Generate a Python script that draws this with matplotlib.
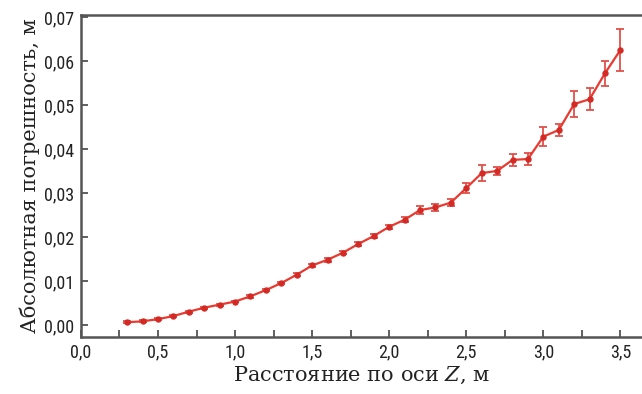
import numpy as np
import matplotlib
matplotlib.use("Agg")
import matplotlib.pyplot as plt
from matplotlib.ticker import MultipleLocator, FuncFormatter

# distance along Z, m
dist = [0.3, 0.4, 0.5, 0.6, 0.7, 0.8, 0.9, 1.0, 1.1, 1.2, 1.3,
        1.4, 1.5, 1.6, 1.7, 1.8, 1.9, 2.0, 2.1, 2.2, 2.3, 2.4,
        2.5, 2.6, 2.7, 2.8, 2.9, 3.0, 3.1, 3.2, 3.3, 3.4, 3.5]
# absolute error, m
err = [0.0006, 0.0008, 0.0013, 0.0020, 0.0030, 0.0039, 0.0046, 0.0053,
       0.0065, 0.0079, 0.0095, 0.0114, 0.0135, 0.0148, 0.0164, 0.0184,
       0.0202, 0.0223, 0.0239, 0.0261, 0.0267, 0.0278, 0.0311, 0.0345,
       0.0350, 0.0375, 0.0377, 0.0428, 0.0443, 0.0502, 0.0513, 0.0572,
       0.0625]
# error bar half-widths
spread = [0.0002, 0.0002, 0.0002, 0.0002, 0.0002, 0.0002, 0.0002, 0.0002,
          0.0003, 0.0003, 0.0003, 0.0003, 0.0003, 0.0004, 0.0004, 0.0004,
          0.0005, 0.0005, 0.0006, 0.0010, 0.0008, 0.0008, 0.0012, 0.0018,
          0.0010, 0.0013, 0.0014, 0.0021, 0.0014, 0.0029, 0.0025, 0.0028,
          0.0047]

plt.rcParams['mathtext.fontset'] = 'dejavuserif'

fig = plt.figure(figsize=(6.42, 3.94), dpi=100)
ax = fig.add_axes([0.126, 0.145, 0.874, 0.817])

ax.errorbar(dist, err, yerr=spread, color='#e83a30', lw=1.6,
            marker='o', ms=3.6, mfc='#d42a25', mec='#d42a25',
            ecolor='#e0504a', elinewidth=1.3, capsize=3, capthick=1.3)

ax.set_xlim(0, 3.64)
ax.set_ylim(-0.00273, 0.07045)
ax.xaxis.set_major_locator(MultipleLocator(0.5))
ax.xaxis.set_minor_locator(MultipleLocator(0.25))
ax.yaxis.set_major_locator(MultipleLocator(0.01))
ax.xaxis.set_major_formatter(FuncFormatter(lambda v, p: f"{v:.1f}".replace('.', ',')))
ax.yaxis.set_major_formatter(FuncFormatter(lambda v, p: f"{v:.2f}".replace('.', ',')))

tick_font = ['Liberation Sans Narrow', 'Roboto Condensed', 'DejaVu Sans']
for lab in ax.get_xticklabels() + ax.get_yticklabels():
    lab.set_family(tick_font)
    lab.set_fontsize(13)
    lab.set_color('#222222')

ax.tick_params(which='both', direction='in', color='#444444', width=1.2)
ax.tick_params(which='major', length=5, pad=5)
ax.tick_params(which='minor', length=5)
ax.tick_params(axis='x', which='minor', labelbottom=False)

for s in ['left', 'bottom', 'top']:
    ax.spines[s].set_color('#555555')
    ax.spines[s].set_linewidth(1.8)
ax.spines['right'].set_visible(False)

ax.set_xlabel('Расстояние по оси $Z$, м', family='DejaVu Serif', fontsize=15,
              color='#222222', labelpad=2)
ax.set_ylabel('Абсолютная погрешность, м', family='DejaVu Serif', fontsize=15,
              color='#222222', labelpad=3)

fig.savefig('out.png', dpi=100)
